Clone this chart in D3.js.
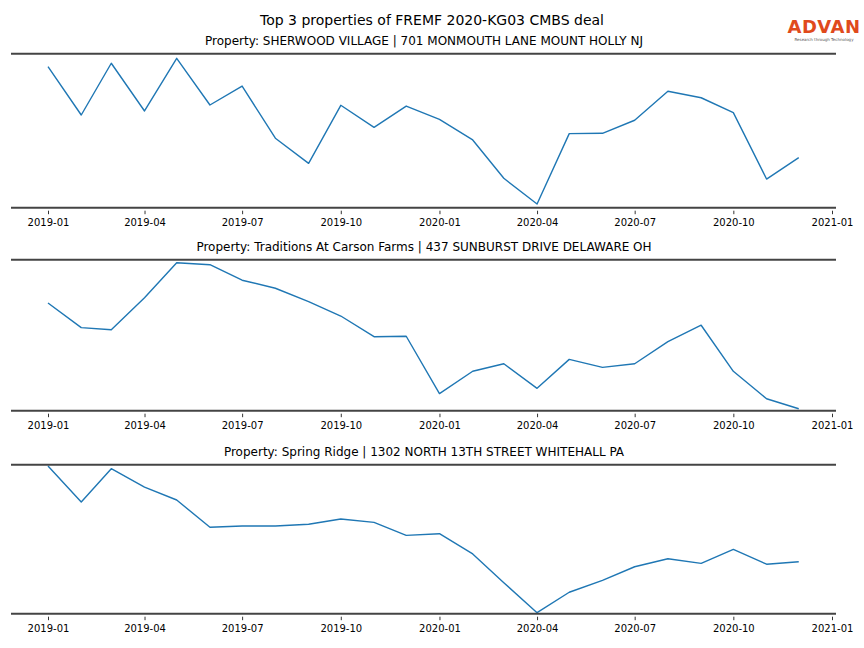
<!DOCTYPE html>
<html>
<head>
<meta charset="utf-8">
<script src="https://cdn.jsdelivr.net/npm/d3@7"></script>
<style>
  html, body { margin: 0; padding: 0; background: #fff; }
  svg { display: block; }
  text { font-family: "DejaVu Sans", sans-serif; }
</style>
</head>
<body>
<script>
// ---- data ----
const months = [
  "2019-01","2019-02","2019-03","2019-04","2019-05","2019-06",
  "2019-07","2019-08","2019-09","2019-10","2019-11","2019-12",
  "2020-01","2020-02","2020-03","2020-04","2020-05","2020-06",
  "2020-07","2020-08","2020-09","2020-10","2020-11","2020-12"
];
const tickLabels = ["2019-01","2019-04","2019-07","2019-10","2020-01","2020-04","2020-07","2020-10","2021-01"];
const chartTitle = "Top 3 properties of FREMF 2020-KG03 CMBS deal";
const propertyTitles = [
  "Property: SHERWOOD VILLAGE | 701 MONMOUTH LANE MOUNT HOLLY NJ",
  "Property: Traditions At Carson Farms | 437 SUNBURST DRIVE DELAWARE OH",
  "Property: Spring Ridge | 1302 NORTH 13TH STREET WHITEHALL PA"
];
const sherwoodValues = [91.6, 60.2, 93.8, 62.8, 97.0, 66.7, 79.0, 45.1, 28.8, 66.5, 52.2, 66.0,
                        57.4, 44.0, 19.1, 2.4, 48.1, 48.3, 56.8, 75.6, 71.4, 61.7, 18.6, 32.5];
const traditionsValues = [71.3, 55.0, 53.6, 74.8, 98.0, 96.7, 86.4, 81.1, 72.2, 62.7, 49.0, 49.3,
                          11.3, 26.1, 31.1, 14.8, 34.0, 28.7, 31.1, 45.7, 56.6, 26.1, 7.9, 1.3];
const springRidgeValues = [99.1, 75.0, 97.3, 85.0, 76.3, 58.0, 58.9, 58.9, 60.0, 63.6, 61.3, 52.6,
                           53.7, 40.1, 20.8, 0.7, 14.4, 22.4, 31.5, 36.9, 33.8, 43.2, 33.2, 34.9];
const seriesList = [sherwoodValues, traditionsValues, springRidgeValues];

// ---- drawing ----
const W = 864, H = 648;
const parse = d3.timeParse("%Y-%m");
const svg = d3.select("body").append("svg").attr("width", W).attr("height", H);

svg.append("text").attr("x", 432).attr("y", 25).attr("text-anchor", "middle")
  .attr("font-size", 14).attr("fill", "#000").text(chartTitle);

// logo
const logo = svg.append("g");
logo.append("text").attr("x", 824).attr("y", 33).attr("text-anchor", "middle")
  .attr("font-family", "Liberation Sans, Arial, sans-serif").attr("font-size", 18)
  .attr("font-weight", 600)
  .attr("letter-spacing", "0.5").attr("fill", "#e04a1c").text("ADVAN");
logo.append("text").attr("x", 824).attr("y", 41).attr("text-anchor", "middle")
  .attr("font-size", 4).attr("fill", "#555").text("Research through Technology");

const x = d3.scaleTime()
  .domain([parse("2019-01"), parse("2021-01")])
  .range([48, 832]);

const panels = [
  { top: 53.7, bottom: 207.7 },
  { top: 259.7, bottom: 410.7 },
  { top: 464.7, bottom: 613.7 }
];

panels.forEach((p, i) => {
  const g = svg.append("g");
  const y = d3.scaleLinear().domain([0, 100]).range([p.bottom, p.top]);

  g.append("text").attr("x", 424).attr("y", p.top - 9).attr("text-anchor", "middle")
    .attr("font-size", 12).attr("fill", "#000").text(propertyTitles[i]);

  const data = months.map((m, k) => ({ date: parse(m), value: seriesList[i][k] }));
  g.append("path").datum(data)
    .attr("fill", "none").attr("stroke", "#1f77b4").attr("stroke-width", 1.4)
    .attr("stroke-linejoin", "round")
    .attr("d", d3.line().x(d => x(d.date)).y(d => y(d.value)));

  // spines
  [p.top, p.bottom].forEach(yy => {
    g.append("line").attr("x1", 11).attr("x2", 836).attr("y1", yy).attr("y2", yy)
      .attr("stroke", "#444").attr("stroke-width", 2);
  });

  const axis = d3.axisBottom(x)
    .tickValues(tickLabels.map(parse))
    .tickFormat(d3.timeFormat("%Y-%m"))
    .tickSize(3.5).tickPadding(5);
  const ag = g.append("g").attr("transform", `translate(0,${p.bottom + 3})`).call(axis);
  ag.select(".domain").remove();
  ag.selectAll(".tick line").attr("stroke", "#000").attr("stroke-width", 0.8);
  ag.selectAll(".tick text").attr("font-size", 10).attr("fill", "#000")
    .attr("font-family", "DejaVu Sans, sans-serif");
});
</script>
</body>
</html>
